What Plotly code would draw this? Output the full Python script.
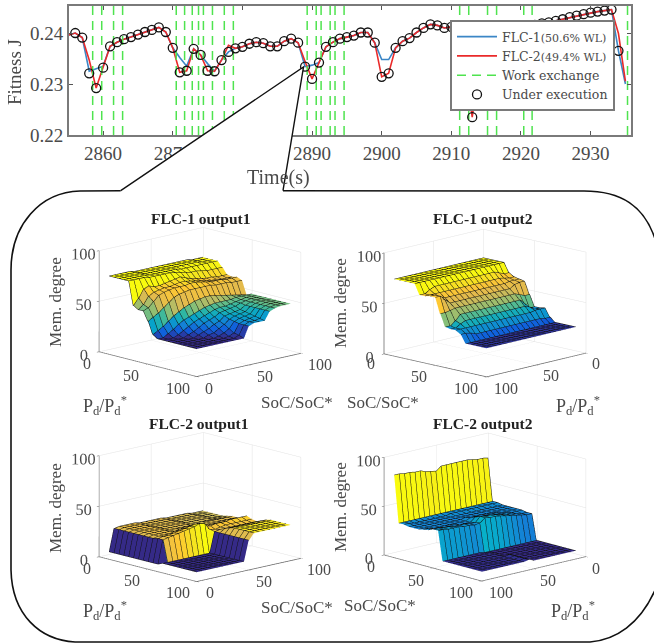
import plotly.graph_objects as go

W, H = 654, 643
FONT = "Liberation Serif"
GREY = "#4a4a4a"

TIME = list(range(2855, 2937))
EXEC = [.2396,.2400,.2391,.2321,.2292,.2332,.2374,.2382,.2388,.2392,.2397,.2402,.2406,.2411,.2402,.2371,
        .2323,.2326,.2369,.2357,.2326,.2325,.2347,.2363,.2370,.2373,.2379,.2382,.2380,.2374,.2374,.2384,
        .2389,.2381,.2334,.2310,.2342,.2373,.2382,.2389,.2392,.2395,.2401,.2401,.2381,.2314,.2321,.2371,
        .2384,.2390,.2401,.2410,.2417,.2415,.2410,.2412,.2412,.2335,.2235,.2345,.2392,.2398,.2402,.2405,
        .2408,.2410,.2413,.2416,.2419,.2421,.2424,.2427,.2431,.2434,.2437,.2440,.2442,.2444,.2446,.2365]
FLC1 = [.2396,.2400,.2391,.2325,.2330,.2335,.2374,.2382,.2388,.2392,.2397,.2402,.2406,.2411,.2402,.2371,
        .2352,.2335,.2369,.2357,.2340,.2325,.2347,.2363,.2370,.2373,.2379,.2382,.2380,.2374,.2374,.2384,
        .2389,.2381,.2334,.2337,.2342,.2373,.2382,.2389,.2392,.2395,.2401,.2401,.2381,.2348,.2348,.2371,
        .2384,.2390,.2401,.2410,.2417,.2415,.2410,.2412,.2412,.2335,.2240,.2345,.2392,.2398,.2402,.2405,
        .2408,.2410,.2413,.2416,.2419,.2421,.2424,.2427,.2431,.2434,.2437,.2440,.2442,.2444,.2446,.2365,.2300]
FLC2 = [.2396,.2400,.2391,.2347,.2292,.2332,.2374,.2382,.2388,.2392,.2397,.2402,.2406,.2411,.2402,.2371,
        .2323,.2326,.2369,.2357,.2326,.2325,.2347,.2376,.2370,.2373,.2379,.2382,.2380,.2374,.2374,.2384,
        .2389,.2381,.2344,.2310,.2342,.2373,.2382,.2389,.2392,.2395,.2401,.2401,.2381,.2314,.2321,.2371,
        .2384,.2390,.2401,.2410,.2417,.2415,.2410,.2412,.2412,.2335,.2235,.2345,.2392,.2398,.2402,.2405,
        .2408,.2410,.2413,.2416,.2419,.2421,.2424,.2427,.2431,.2434,.2437,.2440,.2442,.2444,.2446,.2399,.2305]
EXCHANGE = [2858.5,2859.8,2861.5,2862.8,2870.5,2871.7,2872.8,2873.7,2874.4,2875.7,2877.4,2878.7,
            2889.3,2890.6,2891.3,2892.6,2893.3,2894.6,2911.2,2912.5,2915.2,2916.5,2920.4,2921.6,2935.3]

GRID = list(range(5, 100, 5))

# rows: SoC 5..95, columns: Pd 5..95
F1O1 = [
[75,75,75,75,75,52,49,49,40,28,25,25,25,25,25,25,25,25,25],
[75,75,75,75,75,58,53,51,43,31,25,25,25,25,25,25,25,25,25],
[75,75,75,75,75,66,60,56,46,34,28,25,25,25,25,25,25,25,25],
[75,75,75,75,75,68,63,61,50,38,31,27,25,25,25,25,25,25,25],
[75,75,75,75,74,66,64,63,54,42,35,30,27,25,25,25,25,25,25],
[74,74,74,74,74,66,65,64,58,45,38,33,29,27,25,25,25,25,25],
[74,74,74,74,74,67,65,65,60,48,40,36,32,29,27,25,25,25,25],
[74,74,74,74,74,68,66,65,61,50,42,38,35,31,28,26,25,25,25],
[74,74,74,74,74,69,67,65,62,52,44,40,37,34,31,28,26,25,25],
[74,74,74,74,73,70,67,66,62,53,46,42,39,36,34,31,28,27,25],
[74,74,74,74,72,68,66,66,62,54,47,44,42,40,38,37,36,36,36],
[74,74,74,73,71,66,65,65,62,54,48,45,43,41,40,39,38,38,38],
[74,74,74,73,70,65,64,64,62,53,48,45,44,42,41,40,39,38,38],
[74,74,74,73,70,64,63,63,61,52,48,46,45,43,42,41,40,39,38],
[74,74,74,73,69,63,62,63,61,51,48,47,47,46,46,46,46,46,46],
[74,74,74,73,68,63,62,63,61,50,49,48,48,48,48,48,48,48,48],
[73,73,73,73,68,62,61,62,60,49,49,49,49,49,49,49,49,49,49],
[73,73,73,73,68,62,61,62,60,48,49,49,49,49,49,49,49,49,49],
[73,73,73,73,68,62,61,62,60,47,49,49,49,49,49,49,49,49,49],
]
F1O2 = [
[74]*19,[74]*19,[74]*19,[74]*19,[74]*19,
[65,65,67,69,69,69,69,69,69,69,69,69,69,69,69,69,67,64,64],
[62,62,63,64,64,64,64,64,64,64,64,64,64,64,64,64,64,64,64],
[61,61,61,60,60,60,60,60,60,60,60,60,60,60,60,60,62,65,65],
[60,60,59,56,56,56,56,56,56,56,56,56,56,56,56,56,60,65,65],
[48,48,50,52,52,52,52,52,52,52,52,52,52,52,52,52,51,50,50],
[37,37,42,47,47,47,47,47,47,47,47,47,47,47,47,47,42,38,38],
[37,37,40,42,42,42,42,42,42,42,42,42,42,42,42,42,40,37,37],
[38,38,38,37,37,37,37,37,37,37,37,37,37,37,37,37,37,37,37],
[30,30,31,31,31,31,31,31,31,31,31,31,31,31,31,31,33,34,34],
[26]*19,[26]*19,[26]*19,[26]*19,[26]*19,
]
F2O1 = [
[5,5,5,5,5,5,5,5,5,5,5,7,7,7,7,7,7,7,7],
[27,27,27,27,27,27,27,27,27,28,28,7,7,7,7,7,7,7,7],
[28,28,28,28,28,28,28,28,28,29,29,7,7,7,7,7,7,7,7],
[28,28,28,28,28,28,28,28,28,29,30,7,7,7,7,7,7,7,7],
[28,28,28,28,28,28,28,28,28,30,31,7,7,7,7,7,7,7,7],
[28,28,28,28,28,28,28,28,29,31,32,7,7,7,7,7,7,7,7],
[27,27,27,27,27,27,27,27,29,32,33,7,7,7,7,7,7,7,7],
[27,27,27,27,27,27,27,28,30,33,34,7,7,7,7,7,7,7,7],
[27,27,27,27,27,27,27,29,31,34,36,7,7,7,7,7,7,7,7],
[27,27,27,27,27,27,27,29,31,34,35,7,7,7,7,7,7,7,7],
[27,27,27,27,27,27,27,28,28,30,28,27,27,27,27,27,27,27,27],
[26,26,26,26,26,26,26,27,27,29,27,28,30,32,33,33,33,33,33],
[26,26,26,26,26,26,26,27,28,30,28,28,30,32,33,33,33,33,33],
[26,26,26,26,26,26,27,27,28,30,29,28,30,32,33,33,33,33,33],
[26,26,26,26,26,26,27,27,28,30,29,28,30,32,33,33,33,33,33],
[26,26,26,26,26,26,27,27,28,31,29,28,30,32,33,33,33,33,33],
[25,25,25,25,25,26,27,27,28,31,29,28,30,32,33,33,33,33,33],
[25,25,25,25,25,26,27,27,28,31,29,28,30,32,33,33,33,33,33],
[25,25,25,25,25,26,27,27,28,31,29,28,30,32,33,33,33,33,33],
]
F2O2 = [
[77,78,78,79,80,80,80,80,80,80,76,77,78,80,80,81,81,82,82],
[34,34,34,34,34,34,34,34,34,34,34,34,34,34,34,34,34,34,34],
[34,34,34,34,34,34,34,34,34,34,33,33,33,33,33,33,33,34,34],
[33,33,33,33,33,33,33,33,33,33,33,33,33,33,33,33,33,33,33],
[33,33,33,33,33,33,33,33,33,33,33,33,33,33,33,33,33,33,33],
[33,33,33,33,33,33,33,33,33,34,33,33,33,33,33,33,33,33,33],
[33,33,33,33,34,34,34,34,35,35,33,33,33,33,33,33,33,34,34],
[33,33,33,34,34,35,35,36,36,37,33,33,33,34,34,34,35,35,35],
[32,32,33,34,35,36,37,38,38,39,34,34,35,35,35,36,36,36,37],
[32,32,33,34,35,36,37,38,38,39,35,34,35,35,36,36,36,37,37],
[6,6,6,6,6,6,6,6,6,6,6,7,7,7,7,7,7,7,7],
[6,6,6,6,6,6,6,6,6,6,7,7,7,7,7,7,7,7,7],
[6,6,6,6,6,6,6,6,6,6,7,7,7,7,7,7,7,7,7],
[6,6,6,6,6,6,6,6,6,6,7,7,7,7,7,7,7,7,7],
[6,6,6,6,6,6,6,6,6,8,7,7,7,7,7,7,7,7,7],
[6,6,6,6,6,6,6,6,6,8,7,7,7,7,7,7,7,7,7],
[6,6,6,6,6,6,6,6,6,8,7,7,7,7,7,7,7,7,7],
[6,6,6,6,6,6,6,6,6,8,7,7,7,7,7,7,7,7,7],
[6,6,6,6,6,6,6,6,6,8,7,7,7,7,7,7,7,7,7],
]

PARULA = [[0,"#352a87"],[.1,"#0f5cdd"],[.2,"#1481d6"],[.3,"#06a4ca"],[.4,"#2eb7a4"],
          [.5,"#87bf77"],[.6,"#c4bb5f"],[.7,"#e4bb4c"],[.8,"#fec832"],[.9,"#f5e61e"],[1,"#f9fb0e"]]
PARULA_WIDE = [[0,"#352a87"],[.2,"#0f5cdd"],[.35,"#1481d6"],[.43,"#06b0ca"],[.55,"#2eb7a4"],
               [.7,"#c4bb5f"],[.85,"#f5e61e"],[1,"#f9fb0e"]]


def fx(x):
    return x / W


def fy(y):
    return 1 - y / H


def flat(axis, z):
    """Repeat each mesh node so every facet keeps one colour, as faceted shading does."""
    e = 0.5
    coords, zi, ci = [axis[0]], [0], [0]
    for k in range(1, len(axis)):
        coords += [axis[k] - e, axis[k]]
        zi += [k, k]
        ci += [k - 1, k]
    ci[-1] = len(axis) - 2
    zz = [[z[j][i] for i in zi] for j in zi]
    cc = [[z[j][i] for i in ci] for j in ci]
    return coords, zz, cc


fig = go.Figure()
fig.add_trace(go.Scatter(x=TIME, y=FLC1, mode="lines", name='FLC-1<span style="font-size:11px">(50.6% WL)</span>',
                         line=dict(color="#3b86c6", width=1.6), hoverinfo="skip"))
fig.add_trace(go.Scatter(x=TIME, y=FLC2, mode="lines", name='FLC-2<span style="font-size:11px">(49.4% WL)</span>',
                         line=dict(color="#ea2a2a", width=1.6), hoverinfo="skip"))
ex_x, ex_y = [], []
for t in EXCHANGE:
    ex_x += [t, t, None]
    ex_y += [0.2453, 0.22, None]
fig.add_trace(go.Scatter(x=ex_x, y=ex_y, mode="lines", name="Work exchange",
                         line=dict(color="#4fe34f", width=1.5, dash="9px,6px"), hoverinfo="skip"))
fig.add_trace(go.Scatter(x=TIME[:len(EXEC)], y=EXEC, mode="markers", name="Under execution", cliponaxis=False,
                         marker=dict(symbol="circle-open", size=9, color="#111", line=dict(width=1.3, color="#111")),
                         hoverinfo="skip"))

PANELS = [
    ("FLC-1 output1", F1O1, 200, 302, (.709, -.664, .238), .729, 25, 75, "scene", PARULA),
    ("FLC-1 output2", F1O2, 485, 303, (.699, .676, .231), .727, 25, 75, "scene2", PARULA),
    ("FLC-2 output1", F2O1, 200, 507, (.709, -.664, .238), .729, 7, 36, "scene3", PARULA),
    ("FLC-2 output2", F2O2, 485, 507, (.662, .707, .25), .706, 6, 82, "scene4", PARULA_WIDE),
]
DOM_W, DOM_H = 284, 204
R = 2.5
SCALE = 1.4
for title, z, cx, cy, eye, zr, cmin, cmax, name, cscale in PANELS:
    c, zz, cc = flat(GRID, z)
    fig.add_trace(go.Surface(x=c, y=c, z=zz, surfacecolor=cc, cmin=cmin, cmax=cmax, colorscale=cscale,
                             showscale=False, scene=name, hoverinfo="skip",
                             lighting=dict(ambient=1, diffuse=0, specular=0, fresnel=0, roughness=1),
                             contours=dict(
                                 x=dict(show=True, start=5, end=95, size=5, color="#101010", width=2, highlight=False),
                                 y=dict(show=True, start=5, end=95, size=5, color="#101010", width=2, highlight=False),
                                 z=dict(highlight=False))))
    ax = dict(range=[0, 100], tickvals=[0, 50, 100], title=dict(text=""), showbackground=False, tickangle=0,
              gridcolor="#e2e2e2", gridwidth=1, zeroline=False, showspikes=False, showline=True,
              linecolor="#666", linewidth=1.5, ticks="outside", ticklen=3, tickcolor="#666",
              tickfont=dict(family=FONT, size=14, color=GREY))
    fig.update_layout({name: dict(
        domain=dict(x=[fx(cx - DOM_W / 2), fx(cx + DOM_W / 2)], y=[fy(cy + DOM_H / 2), fy(cy - DOM_H / 2)]),
        xaxis={**ax, "showticklabels": False}, yaxis={**ax, "showticklabels": False}, zaxis=ax,
        aspectmode="manual", aspectratio=dict(x=SCALE, y=SCALE, z=zr * SCALE),
        camera=dict(eye=dict(x=eye[0] * R, y=eye[1] * R, z=eye[2] * R), center=dict(x=0, y=0, z=0),
                    up=dict(x=0, y=0, z=1), projection=dict(type="orthographic")),
        bgcolor="rgba(0,0,0,0)")})

notes = []


def note(text, x, y, size=16, angle=0, bold=False):
    notes.append(dict(text=f"<b>{text}</b>" if bold else text, x=fx(x), y=fy(y), xref="paper", yref="paper",
                      showarrow=False, textangle=angle, xanchor="center", yanchor="middle",
                      font=dict(family=FONT, size=size, color="#222" if bold else GREY)))


PD = "P<sub>d</sub>/P<sub>d</sub><sup>*</sup>"
SOC = "SoC/SoC*"
note("Fitness J", 14, 72, 19, -90)
note("Time(s)", 278, 177, 20)
for t, xt, yt in [("FLC-1 output1", 200, 218), ("FLC-1 output2", 483, 218),
                  ("FLC-2 output1", 198, 423), ("FLC-2 output2", 483, 423)]:
    note(t, xt, yt, 15.5, 0, True)
for xm, ym in [(55, 302), (340, 303), (55, 508), (340, 507)]:
    note("Mem. degree", xm, ym, 17, -90)
for xp, yp in [(105, 405), (578, 405), (105, 610), (573, 610)]:
    note(PD, xp, yp, 18)
for xs, ys in [(297, 402), (383, 402), (297, 607), (380, 605)]:
    note(SOC, xs, ys, 17)
for label, xt, yt in [
    ("0", 87, 363), ("50", 131, 375), ("100", 178, 388), ("0", 209, 388), ("50", 265, 376), ("100", 320, 364),
    ("0", 371, 363), ("50", 419, 376), ("100", 466, 388), ("100", 506, 388), ("50", 551, 375), ("0", 596, 363),
    ("0", 87, 568), ("50", 132, 580), ("100", 178, 592), ("0", 210, 592), ("50", 264, 581), ("100", 319, 569),
    ("0", 371, 566), ("50", 416, 580), ("100", 461, 592), ("100", 501, 592), ("50", 548, 580), ("0", 596, 568),
]:
    note(label, xt, yt, 16)


def P(x, y):
    return f"{fx(x):.5f} {fy(y):.5f}"


callout = ("M" + P(283, 190.7) + " L" + P(584, 191) + " C" + P(620, 191) + " " + P(645, 205) + " " + P(656, 242) +
           " M" + P(656, 588) + " C" + P(640, 625) + " " + P(615, 640) + " " + P(590, 642) +
           " L" + P(75, 642) + " C" + P(40, 640) + " " + P(12, 615) + " " + P(11, 570) +
           " L" + P(11, 270) + " C" + P(11, 225) + " " + P(40, 192) + " " + P(80, 191) + " L" + P(120.7, 190.7))
wedge_fill = "M" + P(303.5, 67) + " L" + P(120.7, 190.7) + " L" + P(283, 190.7) + " Z"
wedge_line = "M" + P(120.7, 190.7) + " L" + P(303.5, 67) + " L" + P(283, 190.7)
shapes = [
    dict(type="path", xref="paper", yref="paper", path=wedge_fill, fillcolor="white", line=dict(width=0), layer="above"),
    dict(type="path", xref="paper", yref="paper", path=wedge_line, line=dict(color="#111", width=1.4), layer="above"),
    dict(type="path", xref="paper", yref="paper", path=callout, line=dict(color="#111", width=1.6), layer="above"),
]

axis_common = dict(showgrid=False, zeroline=False, showline=True, mirror="ticks", linecolor="#7a7a7a", linewidth=2,
                   ticks="inside", ticklen=4, tickcolor="#555", tickfont=dict(family=FONT, size=19, color=GREY))
fig.update_layout(
    width=W, height=H, margin=dict(l=0, r=0, t=0, b=0, pad=0, autoexpand=False), paper_bgcolor="white", plot_bgcolor="white",
    xaxis=dict(domain=[fx(69), fx(631)], range=[2855.1, 2935.8], tickvals=list(range(2860, 2931, 10)), **axis_common),
    yaxis=dict(domain=[fy(135), fy(6)], range=[0.22, 0.2453], tickvals=[0.22, 0.23, 0.24], tickformat=".2f", **axis_common),
    legend=dict(x=fx(450), y=fy(20), xanchor="left", yanchor="top", bgcolor="white", bordercolor="#7a7a7a",
                borderwidth=2, font=dict(family="DejaVu Serif", size=12.5, color=GREY), itemwidth=40),
    annotations=notes, shapes=shapes, showlegend=True,
)
fig.write_html("out.html", config=dict(displayModeBar=False),
               post_script="document.body.style.margin='0';document.body.style.overflow='hidden';")
